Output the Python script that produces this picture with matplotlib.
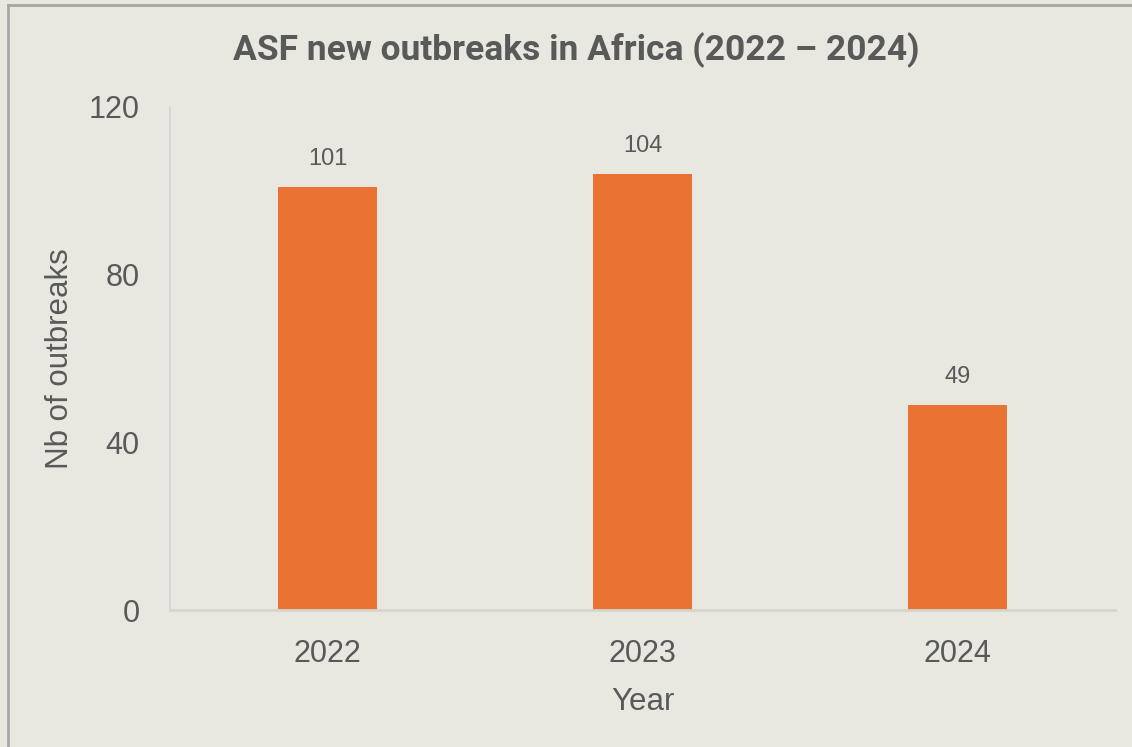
import matplotlib.pyplot as plt

# Data
years    = ["2022", "2023", "2024"]
outbreaks = [101, 104, 49]
yticks   = [0, 40, 80, 120]

# Styles
bg       = "#E8E7E0"
bar_col  = "#EA7233"
txt_col  = "#595959"
axis_col = "#D6D5D0"

plt.rcParams['font.family'] = ['Liberation Sans', 'DejaVu Sans']

fig = plt.figure(figsize=(11.32, 7.47), dpi=100, facecolor=bg)
ax  = fig.add_axes([170/1132, 137/747, 945/1132, 503/747])
ax.set_facecolor(bg)

# outer frame (only left and top edges visible)
fig.add_artist(plt.Line2D([8/1132, 8/1132], [0, 742/747], transform=fig.transFigure,
                          color="#A6A6A6", lw=2))
fig.add_artist(plt.Line2D([8/1132, 1], [742/747, 742/747], transform=fig.transFigure,
                          color="#A6A6A6", lw=2))

x    = range(len(years))
bars = ax.bar(x, outbreaks, width=0.314, color=bar_col)

for b, v in zip(bars, outbreaks):
    ax.annotate(str(v), (b.get_x() + b.get_width()/2, v), xytext=(0, 12),
                textcoords="offset points", ha="center", va="bottom",
                fontsize=17, color=txt_col)

ax.set_xlim(-0.5, 2.5)
ax.set_ylim(0, 120)
ax.set_xticks(list(x))
ax.set_xticklabels(years)
ax.set_yticks(yticks)
ax.tick_params(axis="both", length=0, labelsize=22, colors=txt_col)
ax.tick_params(axis="y", pad=22)
ax.tick_params(axis="x", pad=21)

for s in ["top", "right"]:
    ax.spines[s].set_visible(False)
ax.spines["left"].set_color(axis_col)
ax.spines["bottom"].set_color(axis_col)
ax.spines["left"].set_linewidth(1.2)
ax.spines["bottom"].set_linewidth(2)

ax.set_xlabel("Year", fontsize=22.5, color=txt_col, labelpad=13)
ax.set_ylabel("Nb of outbreaks", fontsize=22.5, color=txt_col, labelpad=10)

fig.text(576/1132, 1 - 50/747, "ASF new outbreaks in Africa (2022 \u2013 2024)",
         ha="center", va="center", fontsize=25.5, fontweight="bold", color=txt_col,
         family=['Liberation Sans Narrow', 'Roboto', 'DejaVu Sans'])

plt.savefig("out.png", dpi=100, facecolor=bg)
